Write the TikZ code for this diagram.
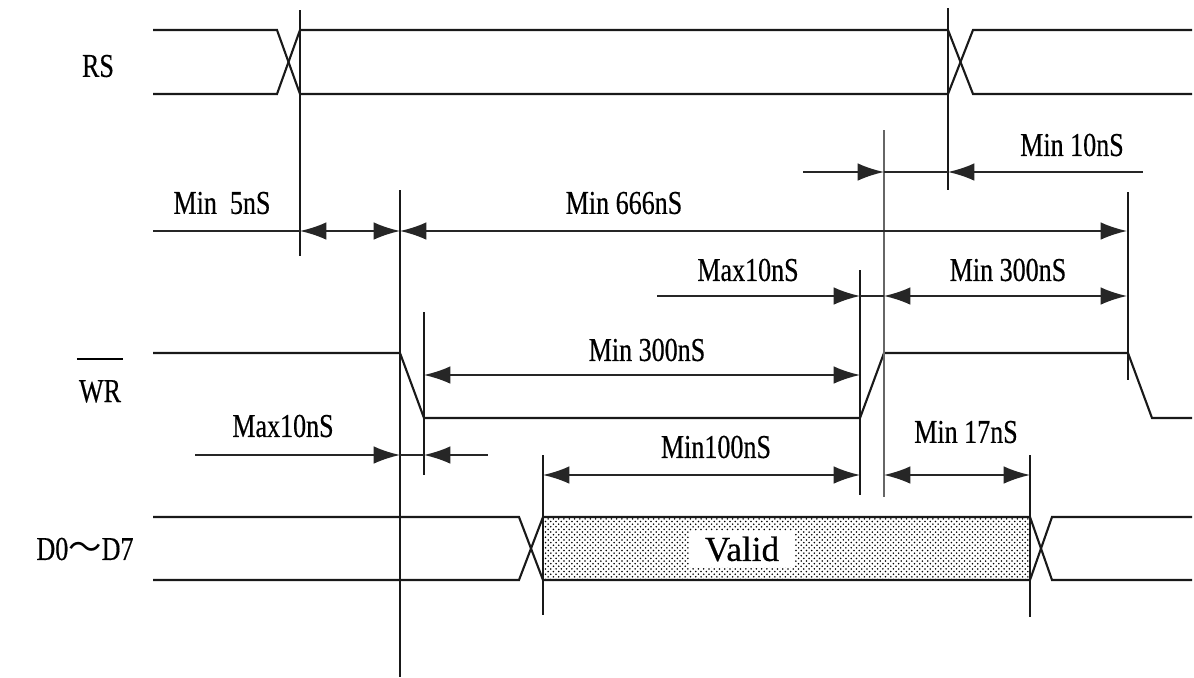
\documentclass[tikz,border=0pt]{standalone}
\usepackage{fontspec}
\setmainfont[FakeStretch=0.78, FakeBold=0.4]{Liberation Serif}
\newfontfamily\plainfont[FakeBold=0.4]{Liberation Serif}
\newfontfamily\cjk{Noto Sans CJK SC}
\usetikzlibrary{arrows.meta, patterns}
\tikzstyle{sig} = [font=\fontsize{19}{21}\selectfont, inner sep=1pt]
\tikzstyle{timing} = [font=\fontsize{19}{21}\selectfont, inner sep=1pt]
\tikzstyle{wave} = [line width=1.2pt, black!90]
\tikzstyle{guide} = [line width=1.1pt, black!90]
\tikzstyle{thinguide} = [line width=0.7pt, black!60]
\tikzstyle{dim} = [line width=1pt, black!85, >={Latex[length=15pt,width=10pt]}]

\begin{document}
\begin{tikzpicture}[x=0.02cm, y=-0.02cm]
	\useasboundingbox (0,0) rectangle (1194,677);

	% signal names
	\node [sig] at (98,66) (rs) {RS};
	\node [sig, anchor=base] at (100,402) (wr) {WR};
	\draw [line width=1.3pt] ([yshift=11pt]wr.north west) -- ([yshift=11pt]wr.north east);
	\node [sig] at (85,549) (data) {D0{\cjk ～}D7};

	% waveforms
	\draw [wave] (153,30) -- (277,30) -- (300,94) -- (948,94) -- (973,30) -- (1192,30);
	\draw [wave] (153,94) -- (277,94) -- (300,30) -- (948,30) -- (973,94) -- (1192,94);
	\draw [wave] (153,353) -- (400,353) -- (424,418) -- (860,418) -- (884,353) -- (1128,353) -- (1152,418) -- (1192,418);
	\fill [pattern=crosshatch dots, pattern color=black] (543,517) rectangle (1030,580);
	\draw [wave] (153,517) -- (519,517) -- (543,580) -- (1030,580) -- (1052,517) -- (1192,517);
	\draw [wave] (153,580) -- (519,580) -- (543,517) -- (1030,517) -- (1052,580) -- (1192,580);
	\node [font=\plainfont\fontsize{20}{22}\selectfont, fill=white, inner xsep=9pt, inner ysep=3pt] at (742,549) (valid) {Valid};

	% guide lines
	\coordinate (rsA) at (300,10);    \coordinate (rsB) at (300,256);
	\coordinate (rs2A) at (948,8);    \coordinate (rs2B) at (948,190);
	\coordinate (wfA) at (400,190);   \coordinate (wfB) at (400,677);
	\coordinate (wf2A) at (1128,192); \coordinate (wf2B) at (1128,380);
	\coordinate (wreA) at (884,130);  \coordinate (wreB) at (884,497);
	\coordinate (wrA) at (860,270);   \coordinate (wrB) at (860,495);
	\coordinate (wfeA) at (424,312);  \coordinate (wfeB) at (424,475);
	\coordinate (dvA) at (543,455);   \coordinate (dvB) at (543,615);
	\coordinate (dhA) at (1030,455);  \coordinate (dhB) at (1030,617);
	\draw [guide] (rsA) -- (rsB);
	\draw [guide] (rs2A) -- (rs2B);
	\draw [guide] (wfA) -- (wfB);
	\draw [guide] (wf2A) -- (wf2B);
	\draw [thinguide] (wreA) -- (wreB);
	\draw [guide] (wrA) -- (wrB);
	\draw [guide] (wfeA) -- (wfeB);
	\draw [guide] (dvA) -- (dvB);
	\draw [guide] (dhA) -- (dhB);

	% timing values
	\node [timing] at (222,203) (t5) {Min\ \ 5nS};
	\node [timing] at (624,203) (t666) {Min 666nS};
	\node [timing] at (1072,145) (t10) {Min 10nS};
	\node [timing] at (748,270) (tmax1) {Max10nS};
	\node [timing] at (1008,270) (t300a) {Min 300nS};
	\node [timing] at (647,350) (t300b) {Min 300nS};
	\node [timing] at (283,426) (tmax2) {Max10nS};
	\node [timing] at (716,447) (t100) {Min100nS};
	\node [timing] at (966,432) (t17) {Min 17nS};

	% dimension arrows
	\coordinate (a1) at (153,231); \coordinate (a2) at (300,231);
	\coordinate (a3) at (400,231); \coordinate (a4) at (1127,231);
	\draw [dim] (a1) -- (a2);
	\draw [dim, <->] (a2) -- (a3);
	\draw [dim, <->] (a3) -- (a4);

	\coordinate (b1) at (803,172); \coordinate (b2) at (884,172);
	\coordinate (b3) at (948,172); \coordinate (b4) at (1143,172);
	\draw [dim, ->] (b1) -- (b2);
	\draw [dim] (b2) -- (b3);
	\draw [dim, <-] (b3) -- (b4);

	\coordinate (c1) at (657,296); \coordinate (c2) at (860,296);
	\coordinate (c3) at (884,296); \coordinate (c4) at (1127,296);
	\draw [dim, ->] (c1) -- (c2);
	\draw [dim] (c2) -- (c3);
	\draw [dim, <->] (c3) -- (c4);

	\coordinate (d1) at (424,375); \coordinate (d2) at (860,375);
	\draw [dim, <->] (d1) -- (d2);

	\coordinate (e1) at (195,455); \coordinate (e2) at (400,455);
	\coordinate (e3) at (424,455); \coordinate (e4) at (488,455);
	\draw [dim, ->] (e1) -- (e2);
	\draw [dim] (e2) -- (e3);
	\draw [dim, <-] (e3) -- (e4);

	\coordinate (f1) at (543,475); \coordinate (f2) at (860,475);
	\coordinate (f3) at (884,475); \coordinate (f4) at (1030,475);
	\draw [dim, <->] (f1) -- (f2);
	\draw [dim, <->] (f3) -- (f4);
\end{tikzpicture}
\end{document}
